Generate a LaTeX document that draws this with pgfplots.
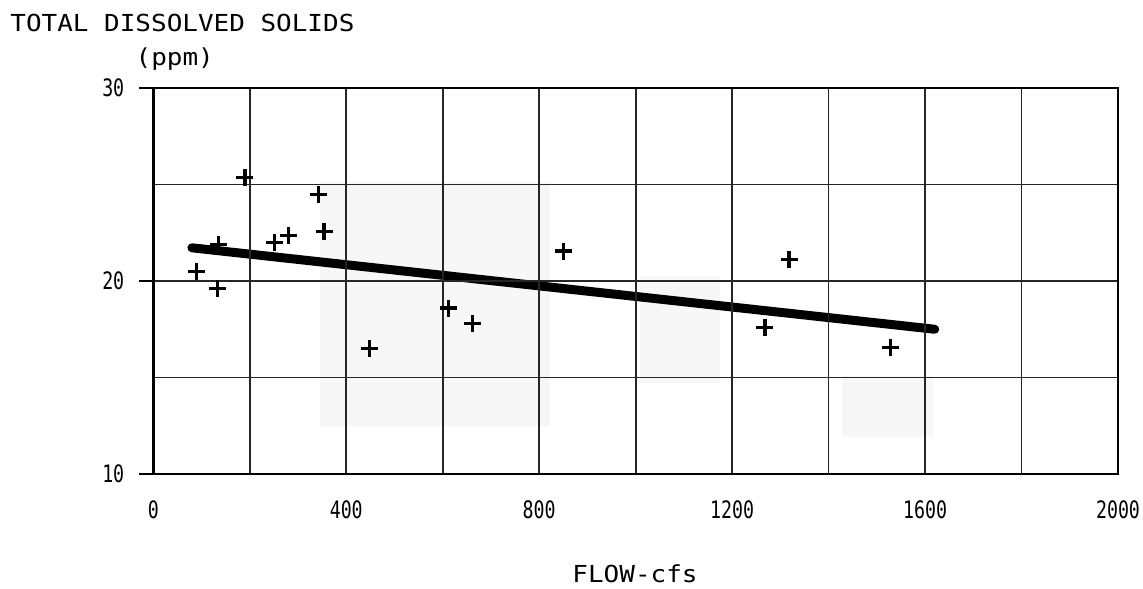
\documentclass[border=0pt]{standalone}
\usepackage{fontspec}
\usepackage{pgfplots}
\pgfplotsset{compat=1.18}
\newfontfamily\lblfont[FakeStretch=0.76]{DejaVu Sans Mono}
\newfontfamily\ttlfont[FakeStretch=1.11]{DejaVu Sans Mono}
\begin{document}
\begin{tikzpicture}
\path[use as bounding box] (-76.65pt,-57pt) rectangle (494.85pt,237pt);
\begin{axis}[
  at={(0,0)}, anchor=south west,
  scale only axis, width=482.35pt, height=193pt,
  xmin=0, xmax=2000, ymin=10, ymax=30,
  xtick={0,400,...,2000}, minor xtick={200,600,...,1800},
  ytick={10,20,30}, minor ytick={15,25},
  grid=both,
  major grid style={black!85, line width=0.85pt},
  minor grid style={black!85, line width=0.85pt},
  axis line style={line width=1.2pt},
  tick align=outside, major tick length=7pt, minor tick length=0pt,
  xtick pos=bottom, ytick pos=left,
  tick style={black, line width=0.9pt},
  xtick style={draw=none},
  /pgf/number format/assume math mode=true,
  /pgf/number format/1000 sep={},
  ticklabel style={font=\lblfont\fontsize{12}{12}\selectfont},
  xticklabel style={yshift=-3pt},
  yticklabel style={xshift=-4pt},
  axis on top,
  clip=false,
]
\fill[black!3] (axis cs:345,25.13) rectangle (axis cs:822,12.44);
\fill[black!3] (axis cs:1009,20.26) rectangle (axis cs:1175,14.72);
\fill[black!3] (axis cs:1428,15.1) rectangle (axis cs:1616,11.9);
\addplot[only marks, mark=+, mark size=4.25pt, mark options={line width=1.6pt, black}] coordinates {
(90,20.5) (133,19.6) (135,21.9) (190,25.35) (252,22.0) (281,22.35)
(342,24.5) (354,22.55) (449,16.5) (612,18.6) (661,17.8) (850,21.55)
(1268,17.6) (1318,21.1) (1529,16.55)
};
\addplot[black, line width=4.5pt, line cap=round] coordinates {(80,21.72) (1620,17.5)};
\end{axis}
\node[anchor=base west, inner sep=0pt, font=\ttlfont\fontsize{11.7}{12}\selectfont] at (-71.65pt,221pt) {TOTAL DISSOLVED SOLIDS};
\node[anchor=base west, inner sep=0pt, font=\ttlfont\fontsize{11.7}{12}\selectfont] at (-9pt,204pt) {(ppm)};
\node[anchor=base, inner sep=0pt, font=\ttlfont\fontsize{11.7}{12}\selectfont] at (240.85pt,-54pt) {FLOW-cfs};
\end{tikzpicture}
\end{document}
